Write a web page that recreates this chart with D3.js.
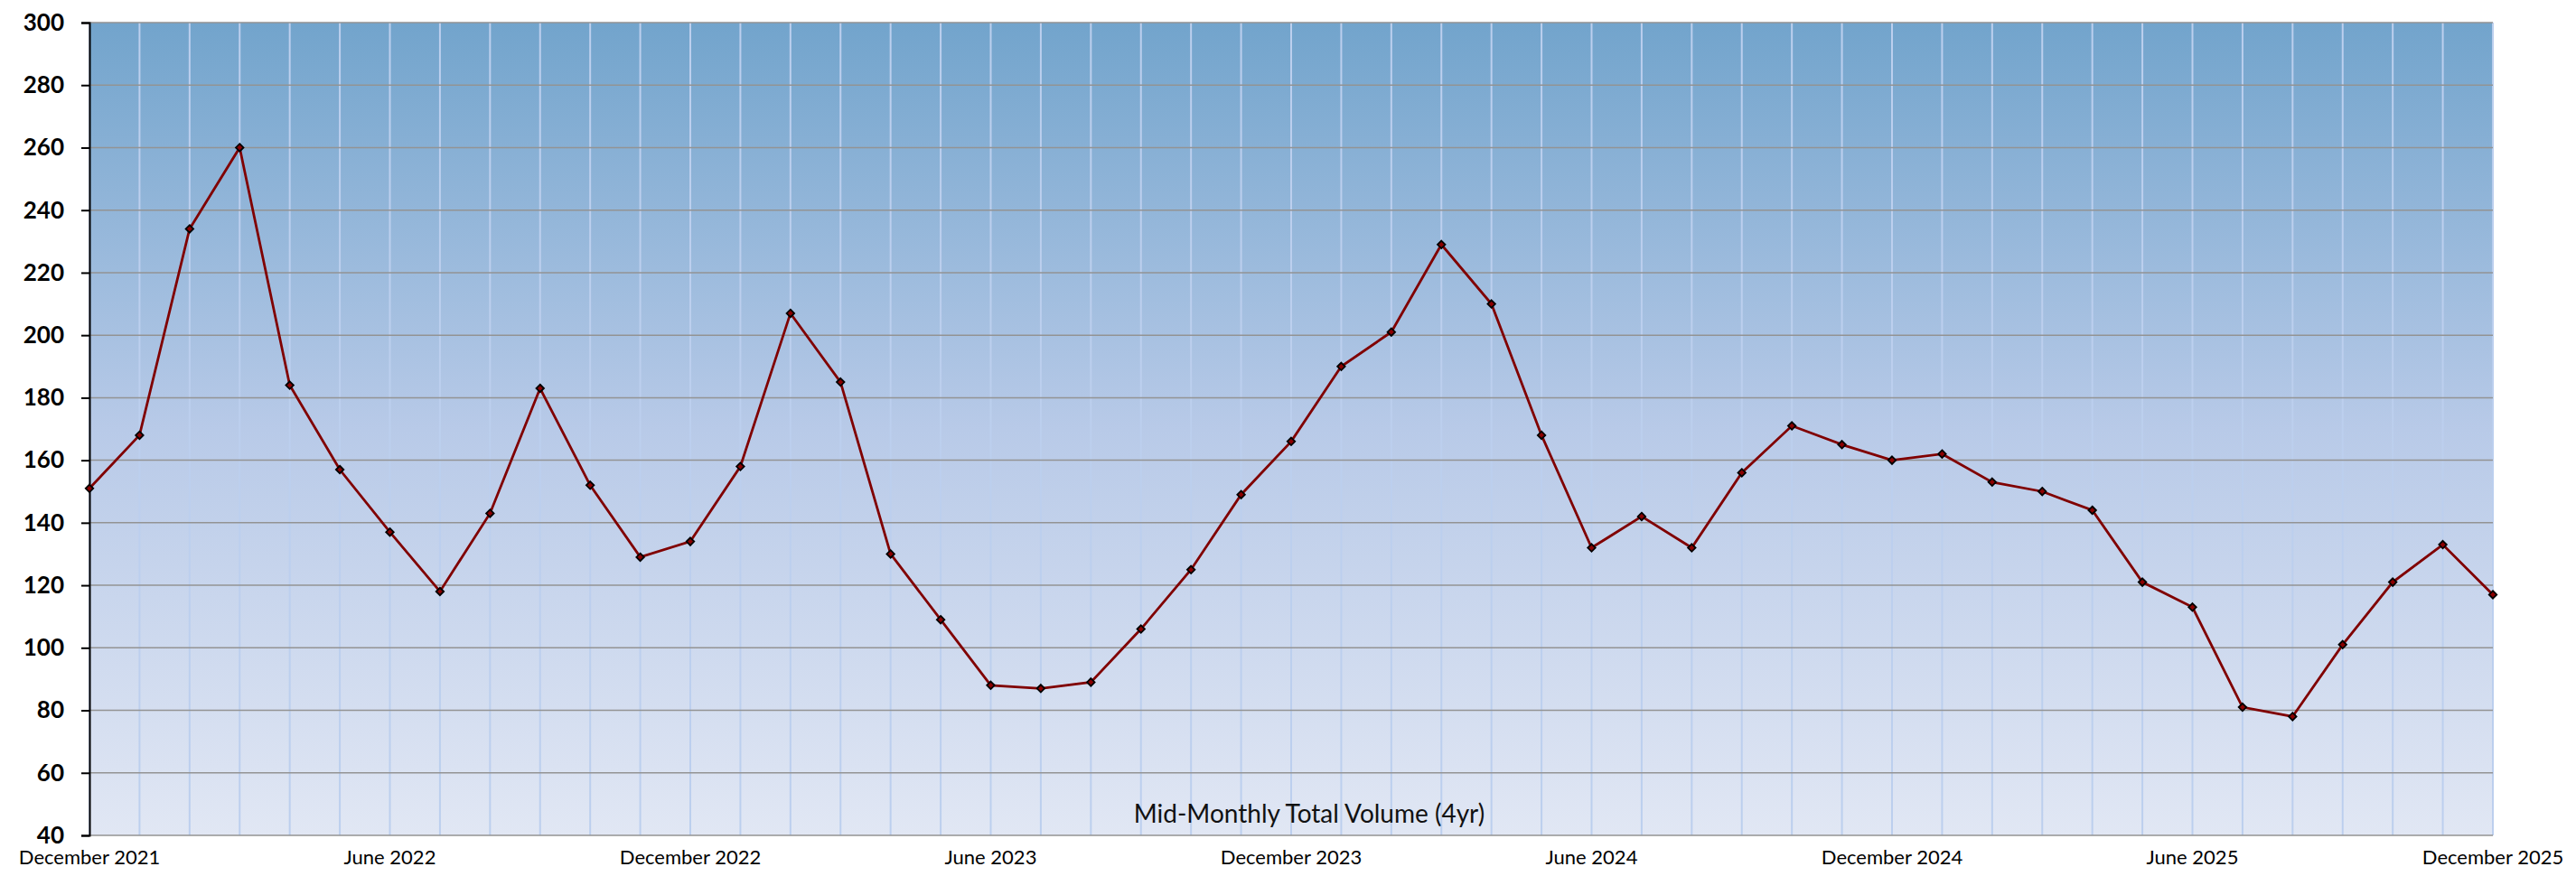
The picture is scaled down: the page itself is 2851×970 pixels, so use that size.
<!DOCTYPE html>
<html>
<head>
<meta charset="utf-8">
<script src="https://cdn.jsdelivr.net/npm/d3@7"></script>
<style>
  body { margin: 0; background: #fff; }
  svg { display: block; font-family: Lato, "Noto Sans", sans-serif; }
</style>
</head>
<body>
<div id="chart"></div>
<script>
// months on the x axis, one point each
var months = [
  "2021-12", "2022-01", "2022-02", "2022-03", "2022-04", "2022-05", "2022-06",
  "2022-07", "2022-08", "2022-09", "2022-10", "2022-11", "2022-12",
  "2023-01", "2023-02", "2023-03", "2023-04", "2023-05", "2023-06",
  "2023-07", "2023-08", "2023-09", "2023-10", "2023-11", "2023-12",
  "2024-01", "2024-02", "2024-03", "2024-04", "2024-05", "2024-06",
  "2024-07", "2024-08", "2024-09", "2024-10", "2024-11", "2024-12",
  "2025-01", "2025-02", "2025-03", "2025-04", "2025-05", "2025-06",
  "2025-07", "2025-08", "2025-09", "2025-10", "2025-11", "2025-12"
];

// mid-monthly total volume
var volume = [
  151, 168, 234, 260, 184, 157, 137, 118, 143, 183, 152, 129, 134,
  158, 207, 185, 130, 109, 88, 87, 89, 106, 125, 149, 166,
  190, 201, 229, 210, 168, 132, 142, 132, 156, 171, 165, 160,
  162, 153, 150, 144, 121, 113, 81, 78, 101, 121, 133, 117
];

// labelled months and their text
var tickMonths = ["2021-12", "2022-06", "2022-12", "2023-06", "2023-12", "2024-06", "2024-12", "2025-06", "2025-12"];
var tickLabels = ["December 2021", "June 2022", "December 2022", "June 2023", "December 2023",
                  "June 2024", "December 2024", "June 2025", "December 2025"];

var yTicks = [40, 60, 80, 100, 120, 140, 160, 180, 200, 220, 240, 260, 280, 300];
var chartTitle = "Mid-Monthly Total Volume (4yr)";

var margin = {top: 25, right: 92, bottom: 45, left: 99, width: 2660, height: 900};

var svg = d3.select("#chart").append("svg")
    .attr("width", 2851)
    .attr("height", 970);

// background gradient of the plot area
var grad = svg.append("defs").append("linearGradient")
    .attr("id", "bg")
    .attr("x1", 0).attr("y1", 0).attr("x2", 0).attr("y2", 1);
grad.append("stop").attr("offset", "0%").attr("stop-color", "#72a4cc");
grad.append("stop").attr("offset", "50%").attr("stop-color", "#b8cae8");
grad.append("stop").attr("offset", "100%").attr("stop-color", "#e1e7f4");

var g = svg.append("g")
    .attr("transform", "translate(" + margin.left + "," + margin.top + ")");

var x = d3.scalePoint()
    .domain(months)
    .range([0, margin.width]);

var y = d3.scaleLinear()
    .domain([40, 300])
    .range([margin.height, 0]);

g.append("rect")
    .attr("width", margin.width)
    .attr("height", margin.height)
    .attr("fill", "url(#bg)");

// vertical grid, one per month
g.selectAll(".vgrid")
    .data(months)
    .enter().append("line")
    .attr("class", "vgrid")
    .attr("x1", function(d) { return x(d); })
    .attr("x2", function(d) { return x(d); })
    .attr("y1", 0)
    .attr("y2", margin.height)
    .attr("stroke", "#bccfee")
    .attr("stroke-width", 2);

// horizontal grid
g.selectAll(".hgrid")
    .data(yTicks)
    .enter().append("line")
    .attr("class", "hgrid")
    .attr("x1", 0)
    .attr("x2", margin.width)
    .attr("y1", function(d) { return y(d); })
    .attr("y2", function(d) { return y(d); })
    .attr("stroke", "#939393")
    .attr("stroke-width", 1.5);

// y axis
var yAxis = g.append("g")
    .call(d3.axisLeft(y).tickValues(yTicks).tickSize(9).tickPadding(19));
yAxis.select(".domain").attr("stroke", "#000").attr("stroke-width", 2);
yAxis.selectAll(".tick line").attr("stroke", "#000").attr("stroke-width", 2);
yAxis.selectAll(".tick text")
    .attr("font-family", "Lato, sans-serif")
    .attr("font-size", 26)
    .attr("font-weight", "bold")
    .attr("fill", "#000");

// x labels
g.selectAll(".xlabel")
    .data(tickMonths)
    .enter().append("text")
    .attr("class", "xlabel")
    .attr("x", function(d) { return x(d); })
    .attr("y", margin.height + 32)
    .attr("text-anchor", "middle")
    .attr("font-size", 22)
    .attr("fill", "#000")
    .text(function(d, i) { return tickLabels[i]; });

// series line
var line = d3.line()
    .x(function(d, i) { return x(months[i]); })
    .y(function(d) { return y(d); });

g.append("path")
    .datum(volume)
    .attr("d", line)
    .attr("fill", "none")
    .attr("stroke", "#800000")
    .attr("stroke-width", 2.8);

// diamond markers
g.selectAll(".pt")
    .data(volume)
    .enter().append("path")
    .attr("class", "pt")
    .attr("d", d3.symbol().type(d3.symbolDiamond2).size(46))
    .attr("transform", function(d, i) { return "translate(" + x(months[i]) + "," + y(d) + ")"; })
    .attr("fill", "#8b0000")
    .attr("stroke", "#000")
    .attr("stroke-width", 1.8);

// title inside the plot, near the bottom
g.append("text")
    .attr("x", 1350)
    .attr("y", margin.height - 14)
    .attr("text-anchor", "middle")
    .attr("font-size", 28)
    .attr("fill", "#111")
    .text(chartTitle);
</script>
</body>
</html>
